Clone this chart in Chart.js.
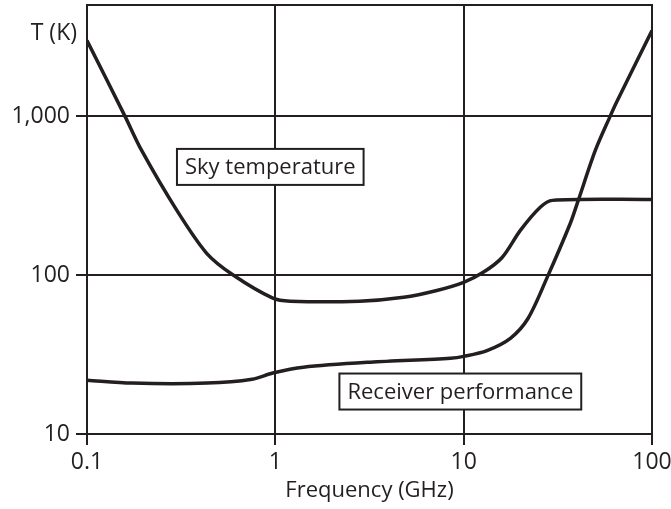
<!DOCTYPE html>
<html>
  <head>
    <title>Sky temperature vs receiver performance</title>
    <script src="https://cdn.jsdelivr.net/npm/chart.js"></script>
    <style>
      body {
        margin: 0;
        background: #fff;
      }
      #wrap {
        width: 671px;
        height: 509px;
      }
    </style>
  </head>
  <body>
    <div id="wrap"><canvas id="chart" width="671" height="509"></canvas></div>

    <script>
      // values (log-log)
      const skyFreq = [0.1, 0.159, 0.195, 0.3, 0.432, 0.597, 0.97, 1.2, 2.8, 4.8, 7.2, 10, 12.7, 16, 20, 25.5, 29.6, 100];
      const skyTemp = [2985, 1000, 608, 255, 137, 100, 71.5, 68.5, 68.5, 72.5, 80, 90, 104, 129, 191, 267, 295, 299];

      const rxFreq = [0.1, 0.173, 0.434, 0.753, 0.97, 1.41, 3.19, 8.5, 10, 13.3, 17.7, 22, 27.8, 36.8, 40.6, 50, 60, 65.5, 100];
      const rxTemp = [21.8, 20.9, 20.9, 22.1, 24.2, 26.3, 28.3, 30, 30.8, 33.5, 40, 53.5, 97, 211, 295, 608, 1000, 1253, 3450];

      const xTicks = [0.1, 1, 10, 100];
      const yTicks = [10, 100, 1000];

      const ink = "#231f20";
      const font = "'Open Sans', sans-serif";

      const labels = [
        { text: "Sky temperature", x: 0.94, y: 479 },
        { text: "Receiver performance", x: 9.6, y: 18.5 }
      ];

      const toPoints = (xs, ys) => xs.map((x, i) => ({ x: x, y: ys[i] }));

      // frame, axis unit and the boxed captions
      const extras = {
        id: "extras",
        afterDraw(chart) {
          const ctx = chart.ctx;
          const a = chart.chartArea;
          const sx = chart.scales.x, sy = chart.scales.y;
          ctx.save();
          ctx.strokeStyle = ink;
          ctx.lineWidth = 2;
          ctx.strokeRect(a.left, a.top, a.right - a.left, a.bottom - a.top);

          ctx.fillStyle = ink;
          ctx.font = "23px " + font;
          ctx.textAlign = "right";
          ctx.textBaseline = "middle";
          ctx.fillText("T (K)", 77, 33);

          ctx.font = "22px " + font;
          ctx.textAlign = "center";
          labels.forEach(l => {
            const cx = sx.getPixelForValue(l.x);
            const cy = sy.getPixelForValue(l.y);
            const w = ctx.measureText(l.text).width + 16;
            const h = 36;
            ctx.fillStyle = "#fff";
            ctx.fillRect(cx - w / 2, cy - h / 2, w, h);
            ctx.strokeRect(cx - w / 2, cy - h / 2, w, h);
            ctx.fillStyle = ink;
            ctx.fillText(l.text, cx, cy + 1);
          });
          ctx.restore();
        }
      };

      new Chart(document.getElementById("chart"), {
        type: "line",
        data: {
          datasets: [
            { label: "Sky temperature", data: toPoints(skyFreq, skyTemp) },
            { label: "Receiver performance", data: toPoints(rxFreq, rxTemp) }
          ]
        },
        options: {
          responsive: false,
          animation: false,
          layout: { padding: { top: 5, right: 19, bottom: 0, left: 0 } },
          elements: {
            line: { borderColor: ink, borderWidth: 3.5, tension: 0.3, fill: false },
            point: { radius: 0 }
          },
          plugins: {
            legend: { display: false },
            tooltip: { enabled: false }
          },
          scales: {
            x: {
              type: "logarithmic",
              min: 0.1,
              max: 100,
              afterBuildTicks: s => { s.ticks = xTicks.map(v => ({ value: v })); },
              afterFit: s => { s.height = 75; s.paddingLeft = 0; s.paddingRight = 0; },
              grid: { color: ink, lineWidth: 2, tickLength: 11 },
              border: { display: false },
              ticks: {
                color: ink,
                font: { family: font, size: 23 },
                padding: 4,
                maxRotation: 0,
                callback: v => String(v)
              },
              title: {
                display: true,
                text: "Frequency (GHz)",
                color: ink,
                font: { family: font, size: 22 },
                padding: { top: 0, bottom: 5 }
              }
            },
            y: {
              type: "logarithmic",
              min: 10,
              max: 5000,
              afterBuildTicks: s => { s.ticks = yTicks.map(v => ({ value: v })); },
              afterFit: s => { s.width = 87; s.paddingTop = 0; s.paddingBottom = 0; },
              grid: { color: ink, lineWidth: 2, tickLength: 11 },
              border: { display: false },
              ticks: {
                color: ink,
                font: { family: font, size: 23 },
                padding: 6,
                callback: v => v.toLocaleString("en-US")
              }
            }
          }
        },
        plugins: [extras]
      });
    </script>
  </body>
</html>
